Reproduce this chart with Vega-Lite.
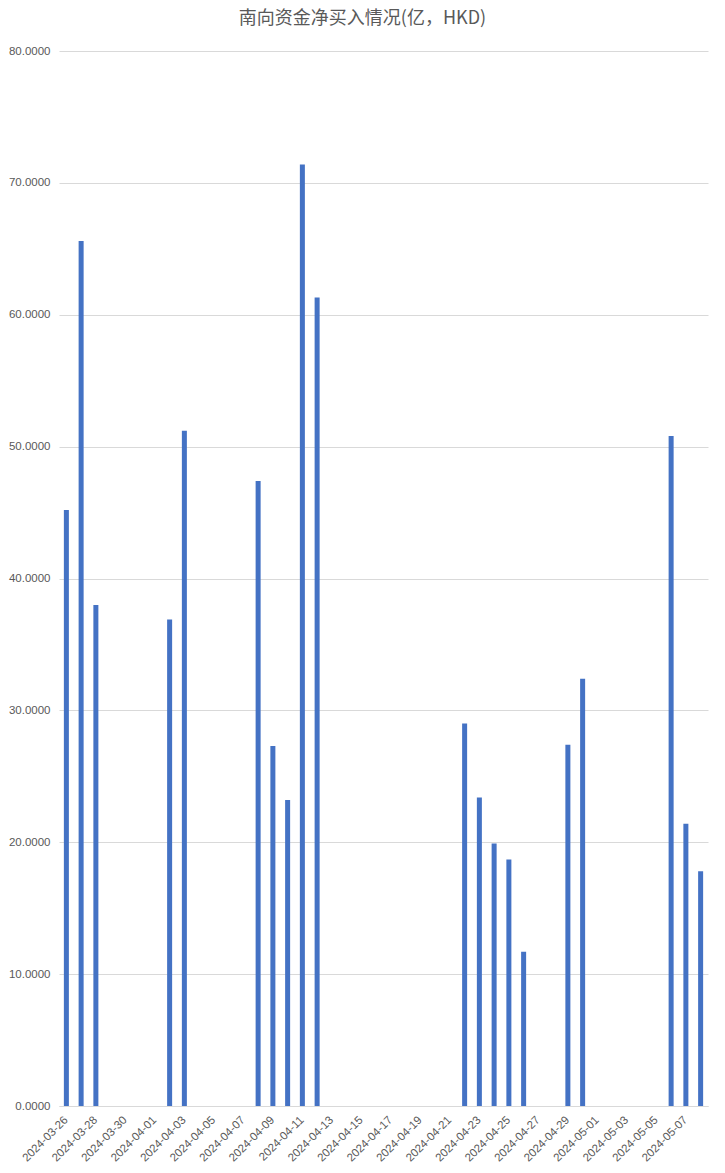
{
  "$schema": "https://vega.github.io/schema/vega-lite/v6.json",
  "width": 649,
  "height": 1055,
  "autosize": "none",
  "padding": {"left": 59, "top": 51, "right": 17, "bottom": 67},
  "background": "white",
  "config": {
    "font": "Liberation Sans",
    "view": {"stroke": null},
    "axis": {
      "labelFontSize": 11.5,
      "labelColor": "#595959",
      "titleColor": "#595959"
    }
  },
  "title": {
    "text": "南向资金净买入情况(亿，HKD)",
    "font": "Noto Sans CJK SC",
    "fontSize": 18,
    "fontWeight": "normal",
    "color": "#595959",
    "anchor": "middle",
    "dx": -21,
    "offset": 17
  },
  "data": {
    "values": [
      {"date": "2024-03-26", "net": 45.2},
      {"date": "2024-03-27", "net": 65.6},
      {"date": "2024-03-28", "net": 38.0},
      {"date": "2024-04-02", "net": 36.9},
      {"date": "2024-04-03", "net": 51.2},
      {"date": "2024-04-08", "net": 47.4},
      {"date": "2024-04-09", "net": 27.3},
      {"date": "2024-04-10", "net": 23.2},
      {"date": "2024-04-11", "net": 71.4},
      {"date": "2024-04-12", "net": 61.3},
      {"date": "2024-04-22", "net": 29.0},
      {"date": "2024-04-23", "net": 23.4},
      {"date": "2024-04-24", "net": 19.9},
      {"date": "2024-04-25", "net": 18.7},
      {"date": "2024-04-26", "net": 11.7},
      {"date": "2024-04-29", "net": 27.4},
      {"date": "2024-04-30", "net": 32.4},
      {"date": "2024-05-06", "net": 50.8},
      {"date": "2024-05-07", "net": 21.4},
      {"date": "2024-05-08", "net": 17.8}
    ]
  },
  "mark": {"type": "bar", "color": "#4472C4"},
  "encoding": {
    "x": {
      "field": "date",
      "type": "ordinal",
      "title": null,
      "scale": {
        "domain": [
          "2024-03-26", "2024-03-27", "2024-03-28", "2024-03-29", "2024-03-30", "2024-03-31",
          "2024-04-01", "2024-04-02", "2024-04-03", "2024-04-04", "2024-04-05", "2024-04-06",
          "2024-04-07", "2024-04-08", "2024-04-09", "2024-04-10", "2024-04-11", "2024-04-12",
          "2024-04-13", "2024-04-14", "2024-04-15", "2024-04-16", "2024-04-17", "2024-04-18",
          "2024-04-19", "2024-04-20", "2024-04-21", "2024-04-22", "2024-04-23", "2024-04-24",
          "2024-04-25", "2024-04-26", "2024-04-27", "2024-04-28", "2024-04-29", "2024-04-30",
          "2024-05-01", "2024-05-02", "2024-05-03", "2024-05-04", "2024-05-05", "2024-05-06",
          "2024-05-07", "2024-05-08"
        ],
        "paddingInner": 0.66,
        "paddingOuter": 0.33
      },
      "axis": {
        "values": [
          "2024-03-26", "2024-03-28", "2024-03-30", "2024-04-01", "2024-04-03", "2024-04-05",
          "2024-04-07", "2024-04-09", "2024-04-11", "2024-04-13", "2024-04-15", "2024-04-17",
          "2024-04-19", "2024-04-21", "2024-04-23", "2024-04-25", "2024-04-27", "2024-04-29",
          "2024-05-01", "2024-05-03", "2024-05-05", "2024-05-07"
        ],
        "labelAngle": -45,
        "labelAlign": "right",
        "labelBaseline": "middle",
        "labelPadding": 12,
        "ticks": false,
        "domainColor": "#d9d9d9",
        "grid": false
      }
    },
    "y": {
      "field": "net",
      "type": "quantitative",
      "title": null,
      "scale": {"domain": [0, 80]},
      "axis": {
        "values": [0, 10, 20, 30, 40, 50, 60, 70, 80],
        "format": ".4f",
        "ticks": false,
        "domain": false,
        "gridColor": "#d9d9d9",
        "labelPadding": 9
      }
    }
  }
}
